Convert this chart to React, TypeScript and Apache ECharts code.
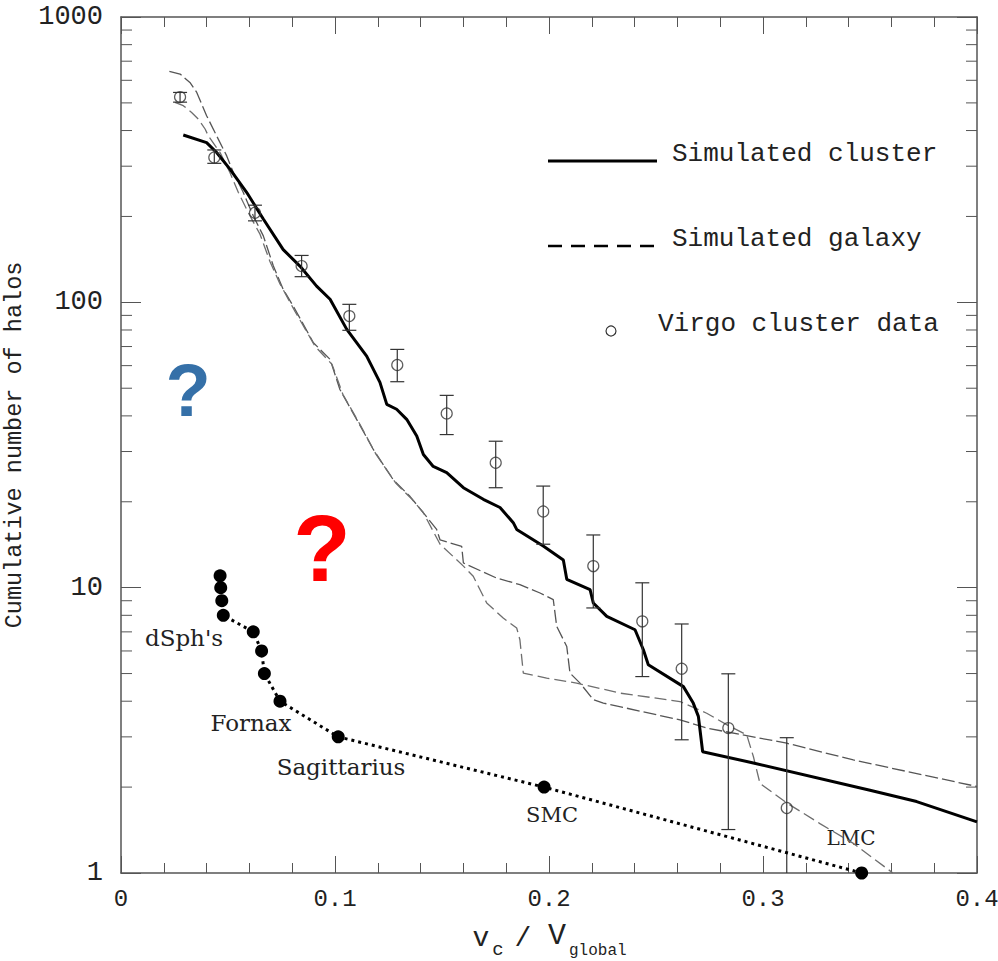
import React, { useEffect, useRef } from "react";
import * as echarts from "echarts";

// Simulated cluster: cumulative halo counts vs v_c / V_global
const clusterV = [0.0291, 0.04, 0.0447, 0.0509, 0.0587, 0.0665, 0.0758, 0.0836, 0.0914, 0.0977, 0.1055, 0.1148, 0.121, 0.1242, 0.1288, 0.1335, 0.1382, 0.1413, 0.1459, 0.1522, 0.16, 0.1693, 0.1771, 0.1833, 0.1849, 0.1973, 0.2067, 0.2083, 0.2192, 0.2207, 0.227, 0.2402, 0.2441, 0.2464, 0.2628, 0.2674, 0.2698, 0.2718, 0.2955, 0.35, 0.3718, 0.4];
const clusterN = [386, 363, 335, 293, 243, 196, 153, 134, 114, 102.5, 80.4, 64.8, 52.4, 43.9, 42.2, 38.9, 34.0, 29.3, 26.6, 25.3, 22.4, 20.4, 19.1, 16.9, 16.0, 14.0, 12.5, 10.7, 9.84, 8.84, 7.93, 7.12, 6.06, 5.37, 4.5, 3.94, 3.54, 2.66, 2.43, 1.95, 1.78, 1.51];

// Simulated galaxies (two runs)
const galaxyAV = [0.0226, 0.0276, 0.0322, 0.0354, 0.04, 0.0447, 0.0494, 0.0525, 0.0571, 0.0618, 0.0665, 0.0712, 0.0758, 0.0805, 0.0899, 0.0977, 0.1023, 0.1101, 0.1179, 0.1272, 0.135, 0.1413, 0.1475, 0.1491, 0.1592, 0.16, 0.1756, 0.1864, 0.1958, 0.202, 0.2036, 0.2083, 0.2098, 0.2145, 0.2207, 0.2254, 0.2612, 0.2737, 0.3111, 0.3422, 0.4];
const galaxyAN = [645, 631, 590, 544, 451, 383, 326, 285, 243, 201, 171, 134, 111, 97, 72.2, 63.1, 49.5, 38.9, 30.5, 23.9, 20.9, 18.3, 16.0, 14.7, 13.96, 12.2, 10.8, 10.25, 9.58, 9.08, 7.32, 6.22, 5.02, 4.63, 4.05, 3.94, 3.44, 3.22, 2.85, 2.49, 2.01];

const galaxyBV = [0.0252, 0.0291, 0.033, 0.0361, 0.0393, 0.0408, 0.0463, 0.0509, 0.0548, 0.0595, 0.065, 0.0696, 0.0743, 0.0813, 0.0907, 0.0986, 0.1037, 0.1117, 0.1192, 0.1285, 0.136, 0.1413, 0.1491, 0.16, 0.1646, 0.1709, 0.1786, 0.1849, 0.1864, 0.188, 0.1989, 0.2129, 0.2332, 0.2612, 0.2737, 0.283, 0.2924, 0.2955, 0.2986, 0.3111, 0.3266, 0.3422, 0.3607];
const galaxyBN = [502, 489, 463, 439, 405, 383, 335, 285, 243, 206, 173, 139, 116, 93, 70.1, 60.6, 47.5, 37.3, 29.3, 23.2, 20.4, 18.3, 14.2, 11.9, 10.96, 8.84, 7.83, 7.22, 6.57, 5.02, 4.82, 4.63, 4.27, 3.99, 3.63, 3.31, 3.05, 2.56, 2.06, 1.76, 1.49, 1.27, 1.0];

// Virgo cluster data with error bars
const virgoV = [0.0276, 0.0436, 0.0626, 0.0844, 0.1067, 0.1291, 0.1522, 0.1751, 0.1973, 0.2207, 0.2436, 0.262, 0.2838, 0.3111];
const virgoN = [524, 322, 206, 134, 89.5, 60.3, 40.8, 27.4, 18.5, 11.9, 7.62, 5.2, 3.22, 1.69];
const virgoHi = [544, 342, 219, 146, 98.4, 68.4, 47.2, 32.6, 22.7, 15.3, 10.4, 7.46, 4.99, 2.98];
const virgoLo = [503, 307, 193, 123, 79.8, 52.7, 34.4, 22.4, 14.2, 8.49, 4.88, 2.93, 1.42, 0.39];

// Milky Way satellites
const mwV = [0.0463, 0.0466, 0.0471, 0.0478, 0.0618, 0.0657, 0.067, 0.0743, 0.1015, 0.1977, 0.3461];
const mwN = [11, 10, 9, 8, 7, 6, 5, 4, 3, 2, 1];

const X_MIN = 0;
const X_MAX = 0.4;
const X_STEP = 0.1;
const Y_MIN = 1;
const Y_MAX = 1000;

const MONO = "Liberation Mono";
const SERIF = "DejaVu Serif";
const INK = "#222";
const FRAME = "#555";

const zip = (xs: number[], ys: number[]) => xs.map((x, i) => [x, ys[i]]);

// 2..9 within each decade for the log axis minor ticks
const logMinor: number[] = [];
for (let d = Y_MIN; d < Y_MAX; d *= 10) {
  for (let k = 2; k <= 9; k++) logMinor.push(d * k);
}

export default function App() {
  const ref = useRef<HTMLDivElement>(null);

  useEffect(() => {
    if (!ref.current) return;
    const chart = echarts.init(ref.current, null, { renderer: "svg" });

    const xAxisBase = {
      type: "value",
      min: X_MIN,
      max: X_MAX,
      interval: X_STEP,
      axisLine: { show: true, onZero: false, lineStyle: { color: FRAME, width: 1.5 } },
      axisTick: { show: true, inside: true, length: 17, lineStyle: { color: FRAME, width: 1 } },
      minorTick: { show: true, splitNumber: 5, length: 10, lineStyle: { color: FRAME, width: 1 } },
      splitLine: { show: false },
      minorSplitLine: { show: false },
    };
    const yAxisBase = {
      type: "log",
      logBase: 10,
      min: Y_MIN,
      max: Y_MAX,
      axisLine: { show: true, onZero: false, lineStyle: { color: FRAME, width: 1.5 } },
      axisTick: { show: true, inside: true, length: 20, lineStyle: { color: FRAME, width: 1 } },
      minorTick: { show: false },
      splitLine: { show: false },
    };

    chart.setOption({
      animation: false,
      backgroundColor: "#fff",
      grid: { left: 121, right: 21, top: 17, bottom: 88, containLabel: false, outerBoundsMode: "none" },
      xAxis: [
        {
          ...xAxisBase,
          position: "bottom",
          axisLabel: {
            show: true,
            fontFamily: MONO,
            fontSize: 24,
            color: INK,
            margin: 14,
            formatter: (v: number) => String(Math.round(v * 10) / 10),
          },
        },
        { ...xAxisBase, position: "top", axisLabel: { show: false } },
      ],
      yAxis: [
        {
          ...yAxisBase,
          position: "left",
          axisLabel: {
            show: true,
            fontFamily: MONO,
            fontSize: 27,
            color: INK,
            margin: 18,
            formatter: (v: number) => String(Math.round(v)),
          },
          name: "Cumulative number of halos",
          nameLocation: "middle",
          nameGap: 95,
          nameRotate: 90,
          nameTextStyle: { fontFamily: MONO, fontSize: 23.5, color: INK },
        },
        { ...yAxisBase, position: "right", axisLabel: { show: false } },
      ],
      series: [
        {
          // minor ticks of the log axes, on both vertical edges
          type: "custom",
          xAxisIndex: 0,
          yAxisIndex: 0,
          silent: true,
          data: logMinor.map((v) => [X_MIN, v]),
          encode: { x: 0, y: 1 },
          renderItem: (params: any, api: any) => {
            const y = api.coord([X_MIN, api.value(1)])[1];
            const cs = params.coordSys;
            const st = { stroke: FRAME, lineWidth: 1 };
            return {
              type: "group",
              children: [
                { type: "line", shape: { x1: cs.x, y1: y, x2: cs.x + 11, y2: y }, style: st },
                { type: "line", shape: { x1: cs.x + cs.width - 11, y1: y, x2: cs.x + cs.width, y2: y }, style: st },
              ],
            };
          },
        },
        {
          name: "Simulated galaxy",
          type: "line",
          data: zip(galaxyAV, galaxyAN),
          showSymbol: false,
          symbol: "none",
          clip: true,
          lineStyle: { color: "#555", width: 1.3, type: [13, 4] },
          z: 2,
        },
        {
          name: "Simulated galaxy B",
          type: "line",
          data: zip(galaxyBV, galaxyBN),
          showSymbol: false,
          symbol: "none",
          clip: true,
          lineStyle: { color: "#6e6e6e", width: 1.3, type: [12, 5] },
          z: 2,
        },
        {
          name: "Simulated cluster",
          type: "line",
          data: zip(clusterV, clusterN),
          showSymbol: false,
          symbol: "none",
          clip: true,
          lineStyle: { color: "#000", width: 3 },
          z: 3,
        },
        {
          // Virgo error bars
          type: "custom",
          clip: true,
          data: virgoV.map((v, i) => [v, virgoLo[i], virgoHi[i]]),
          encode: { x: 0, y: [1, 2] },
          renderItem: (params: any, api: any) => {
            const x = api.value(0);
            const top = api.coord([x, api.value(2)]);
            const bot = api.coord([x, api.value(1)]);
            const cap = 7;
            const st = { stroke: "#333", lineWidth: 1.2 };
            return {
              type: "group",
              children: [
                { type: "line", shape: { x1: top[0], y1: top[1], x2: bot[0], y2: bot[1] }, style: st },
                { type: "line", shape: { x1: top[0] - cap, y1: top[1], x2: top[0] + cap, y2: top[1] }, style: st },
                { type: "line", shape: { x1: bot[0] - cap, y1: bot[1], x2: bot[0] + cap, y2: bot[1] }, style: st },
              ],
            };
          },
          z: 4,
        },
        {
          name: "Virgo cluster data",
          type: "scatter",
          data: zip(virgoV, virgoN),
          symbol: "circle",
          symbolSize: 11,
          itemStyle: { color: "rgba(255,255,255,0)", borderColor: "#333", borderWidth: 1.2 },
          z: 5,
        },
        {
          name: "Milky Way",
          type: "line",
          data: zip(mwV, mwN),
          symbol: "circle",
          symbolSize: 13,
          showSymbol: true,
          clip: false,
          itemStyle: { color: "#000", borderWidth: 0 },
          lineStyle: { color: "#000", width: 3, type: [3, 4] },
          z: 6,
        },
      ],
      graphic: [
        // legend
        { type: "line", shape: { x1: 548, y1: 161, x2: 657, y2: 161 }, style: { stroke: "#000", lineWidth: 3 } },
        { type: "text", x: 672, y: 154, style: { text: "Simulated cluster", font: `26px "${MONO}"`, fill: INK, verticalAlign: "middle", align: "left" } },
        { type: "line", shape: { x1: 548, y1: 246, x2: 657, y2: 246 }, style: { stroke: "#000", lineWidth: 2.5, lineDash: [14, 9] } },
        { type: "text", x: 672, y: 239, style: { text: "Simulated galaxy", font: `26px "${MONO}"`, fill: INK, verticalAlign: "middle", align: "left" } },
        { type: "circle", shape: { cx: 611, cy: 331, r: 5 }, style: { fill: "none", stroke: "#333", lineWidth: 1.2 } },
        { type: "text", x: 658, y: 324, style: { text: "Virgo cluster data", font: `26px "${MONO}"`, fill: INK, verticalAlign: "middle", align: "left" } },

        // satellite names
        { type: "text", x: 184, y: 638, style: { text: "dSph's", font: `23px "${SERIF}"`, fill: INK, align: "center", verticalAlign: "middle" } },
        { type: "text", x: 251, y: 723, style: { text: "Fornax", font: `23px "${SERIF}"`, fill: INK, align: "center", verticalAlign: "middle" } },
        { type: "text", x: 341, y: 767, style: { text: "Sagittarius", font: `23px "${SERIF}"`, fill: INK, align: "center", verticalAlign: "middle" } },
        { type: "text", x: 552, y: 815, style: { text: "SMC", font: `21px "${SERIF}"`, fill: INK, align: "center", verticalAlign: "middle" } },
        { type: "text", x: 851, y: 838, style: { text: "LMC", font: `20px "${SERIF}"`, fill: INK, align: "center", verticalAlign: "middle" } },

        // question marks
        { type: "text", x: 188, y: 390, style: { text: "?", font: `bold 74px "Liberation Sans"`, fill: "#3570a8", align: "center", verticalAlign: "middle" } },
        { type: "text", x: 322, y: 548, style: { text: "?", font: `bold 94px "Liberation Sans"`, fill: "#ff0000", align: "center", verticalAlign: "middle" } },

        // x axis title: v_c / V_global
        { type: "text", x: 481, y: 938, style: { text: "v", font: `28px "${MONO}"`, fill: INK, align: "center", verticalAlign: "middle" } },
        { type: "text", x: 498, y: 950, style: { text: "c", font: `19px "${MONO}"`, fill: INK, align: "center", verticalAlign: "middle" } },
        { type: "text", x: 523, y: 938, style: { text: "/", font: `28px "${MONO}"`, fill: INK, align: "center", verticalAlign: "middle" } },
        { type: "text", x: 557, y: 936, style: { text: "V", font: `30px "${MONO}"`, fill: INK, align: "center", verticalAlign: "middle" } },
        { type: "text", x: 569, y: 951, style: { text: "global", font: `16px "${MONO}"`, fill: INK, align: "left", verticalAlign: "middle" } },
      ],
    });

    return () => chart.dispose();
  }, []);

  return (
    <div
      ref={ref}
      style={{ position: "fixed", left: 0, top: 0, width: 998, height: 961, background: "#fff" }}
    />
  );
}
